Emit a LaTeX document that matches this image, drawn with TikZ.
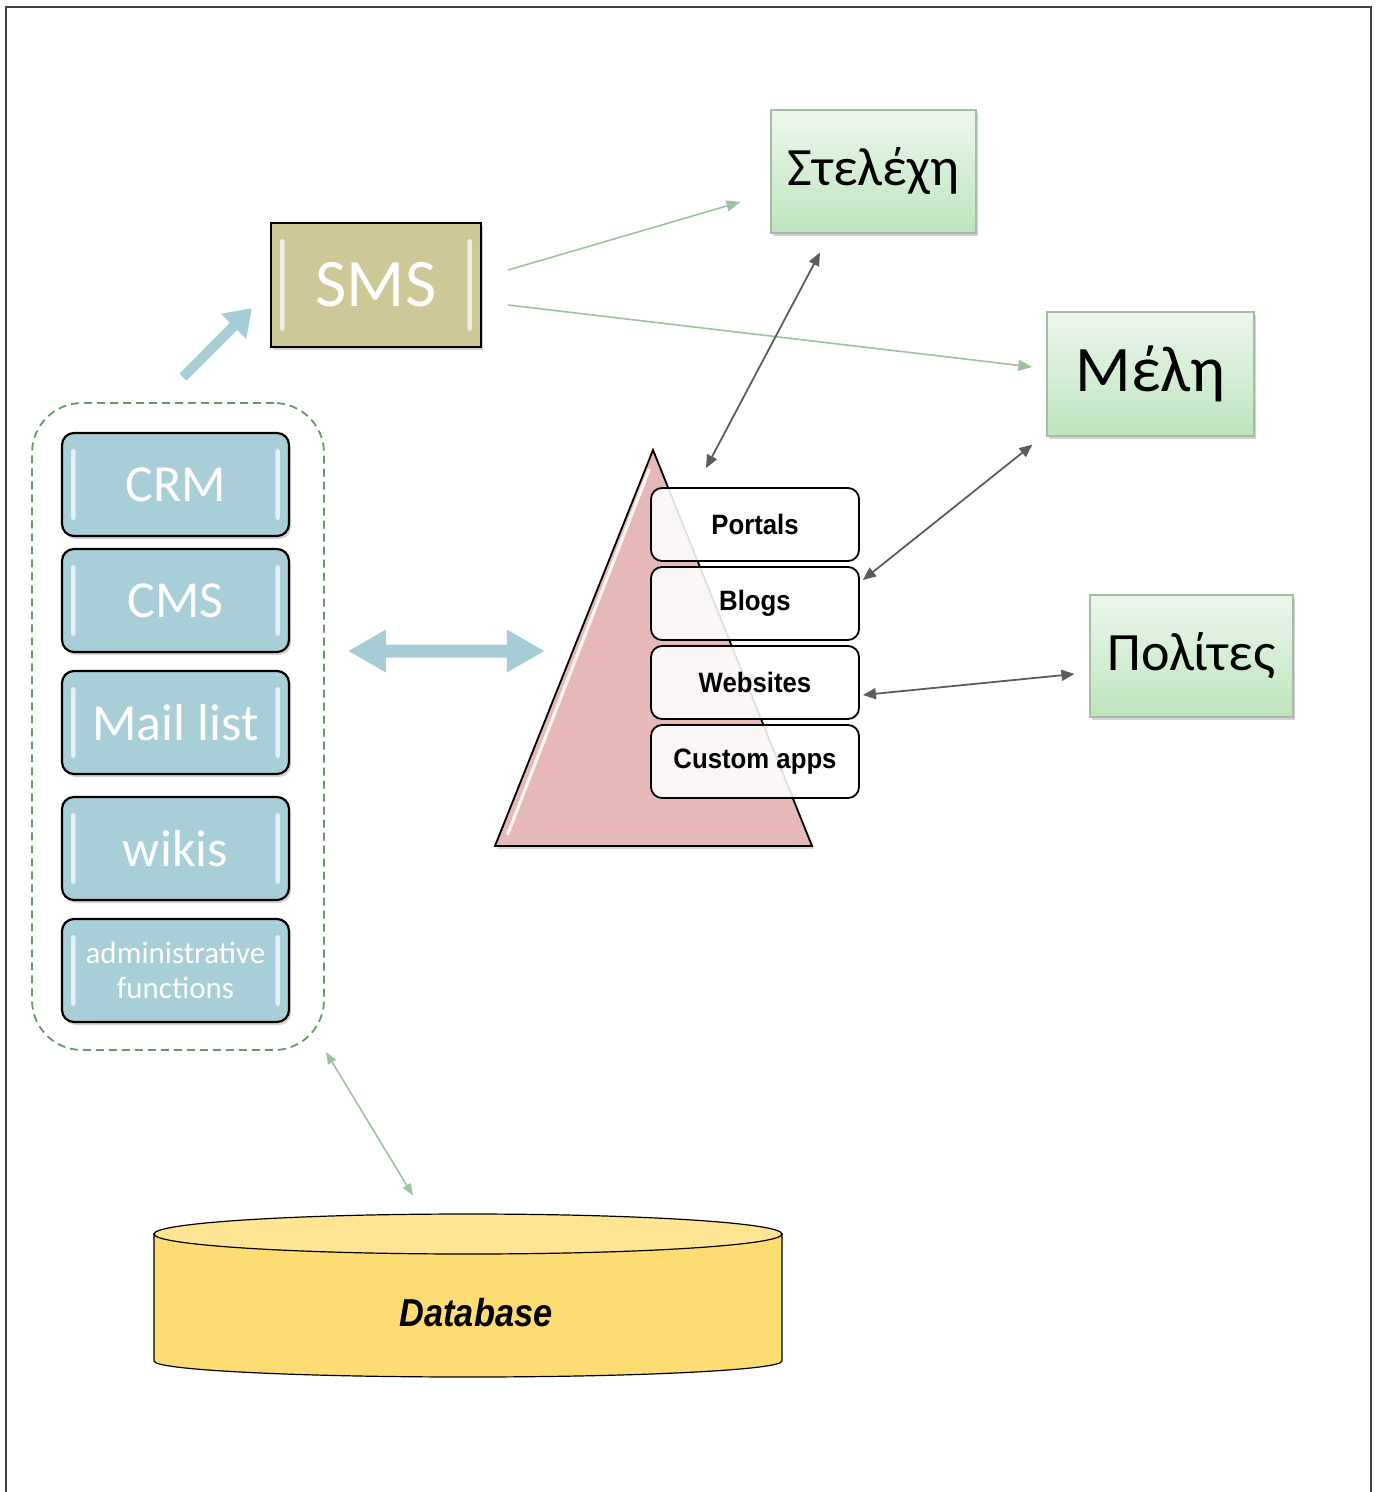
\documentclass[tikz,border=0pt]{standalone}
\usepackage{fontspec}
\setmainfont{Carlito}
\newfontfamily\appfont[FakeStretch=0.92]{Liberation Sans}
\newfontfamily\dbfont[FakeStretch=0.88]{Liberation Sans}
\usetikzlibrary{arrows.meta,shadows,calc}

\definecolor{boxblue}{RGB}{168,206,215}
\definecolor{arrowblue}{RGB}{166,205,214}
\definecolor{smstan}{RGB}{206,199,152}
\definecolor{greentop}{RGB}{236,247,236}
\definecolor{greenbot}{RGB}{190,228,190}
\definecolor{greenline}{RGB}{158,194,158}
\definecolor{dashgreen}{RGB}{104,152,104}
\definecolor{pyrpink}{RGB}{230,184,184}
\definecolor{dbbody}{RGB}{253,220,116}
\definecolor{dbtop}{RGB}{254,229,148}
\definecolor{darkarrow}{RGB}{92,92,92}

\tikzset{
  glossy/.style={
    path picture={
      \fill[white,opacity=.7,rounded corners=1.2pt]
        ([xshift=4.5pt,yshift=-8pt]path picture bounding box.north west)
        rectangle ([xshift=6.8pt,yshift=8pt]path picture bounding box.south west);
      \fill[white,opacity=.7,rounded corners=1.2pt]
        ([xshift=-4.5pt,yshift=-8pt]path picture bounding box.north east)
        rectangle ([xshift=-6.8pt,yshift=8pt]path picture bounding box.south east);
    }},
  toolbox/.style={draw=black, line width=1.1pt, fill=boxblue, rounded corners=6pt,
    minimum width=113.5pt, minimum height=51.5pt, text=white, glossy,
    align=center, inner sep=0pt,
    drop shadow={shadow xshift=1pt, shadow yshift=-1.5pt, opacity=.35}},
  smsbox/.style={draw=black, line width=1.1pt, fill=smstan,
    minimum width=105pt, minimum height=62pt, text=white, glossy,
    font=\fontsize{34}{38}\selectfont,
    drop shadow={shadow xshift=1pt, shadow yshift=-1.5pt, opacity=.35}},
  groupbox/.style={draw=greenbot!60!gray, line width=0.6pt,
    top color=greentop, bottom color=greenbot,
    drop shadow={shadow xshift=1pt, shadow yshift=-1.5pt, opacity=.35}},
  appbox/.style={draw=black, line width=0.9pt, fill=white, fill opacity=.88,
    text opacity=1, rounded corners=5.5pt,
    minimum width=104pt, minimum height=36.5pt,
    font=\appfont\bfseries\fontsize{14}{16}\selectfont},
  greenarrow/.style={draw=greenline, line width=0.8pt,
    -{Triangle[length=7pt,width=5.5pt]}},
  greendouble/.style={draw=greenline, line width=0.8pt,
    {Triangle[length=6pt,width=4.5pt]}-{Triangle[length=6pt,width=4.5pt]}},
  graydouble/.style={draw=darkarrow, line width=0.9pt,
    {Triangle[length=6.5pt,width=5.5pt]}-{Triangle[length=6.5pt,width=5.5pt]}},
  fatarrow/.style={draw=arrowblue, line width=5pt,
    -{Triangle[length=13pt,width=17pt]}},
  fatdouble/.style={draw=arrowblue, line width=6.5pt,
    {Triangle[length=19pt,width=20pt]}-{Triangle[length=19pt,width=20pt]}}
}

\begin{document}
\begin{tikzpicture}[x=0.5pt,y=-0.5pt]
  \useasboundingbox (0,0) rectangle (1381,1492);

  % page frame
  \draw[line width=0.8pt, black!75] (6,1492) -- (6,7) -- (1371,7) -- (1371,1492);

  % dashed group of internal tools
  \node[draw=dashgreen, dashed, dash pattern=on 4pt off 2.5pt, line width=0.9pt,
        rounded corners=25pt, minimum width=146pt, minimum height=323.5pt]
        (grp) at (178,726.5) {};

  \node[toolbox, font=\fontsize{26}{30}\selectfont] (crm)   at (175.5,484.5) {CRM};
  \node[toolbox, font=\fontsize{26}{30}\selectfont] (cms)   at (175.5,600.5) {CMS};
  \node[toolbox, font=\fontsize{26}{30}\selectfont] (mail)  at (175.5,722.5) {Mail list};
  \node[toolbox, font=\fontsize{26}{30}\selectfont] (wikis) at (175.5,848.5) {wikis};
  \node[toolbox, font=\fontsize{15.5}{17.5}\selectfont] (admin) at (175.5,970.5) {administrative\\functions};

  % SMS gateway
  \node[smsbox] (sms) at (376,285) {SMS};

  % audience groups
  \node[groupbox, minimum width=102.5pt, minimum height=61.5pt,
        font=\fontsize{27}{31}\selectfont] (ste) at (873.5,171.5) {Στελέχη};
  \node[groupbox, minimum width=103.5pt, minimum height=62pt,
        font=\fontsize{32.5}{36}\selectfont] (mel) at (1150.5,374) {Μέλη};
  \node[groupbox, minimum width=101.5pt, minimum height=61pt,
        font=\fontsize{27}{31}\selectfont] (pol) at (1191.5,656) {Πολίτες};

  % pyramid of web front-ends
  \coordinate (apex) at (653,450);
  \coordinate (tl) at (495,846);
  \coordinate (tr) at (812,846);
  \filldraw[fill=pyrpink, draw=black, line width=0.9pt,
            drop shadow={shadow xshift=1pt, shadow yshift=-1.5pt, opacity=.3}]
    (apex) -- (tr) -- (tl) -- cycle;
  \draw[white, opacity=.85, line width=1.6pt, line cap=round]
    ($(apex)!0.05!(tl)+(4,0)$) -- ($(apex)!0.97!(tl)+(8,0)$);
  \coordinate (pyrleft) at ($(apex)!0.5076!(tl)$);

  \node[appbox] (portals)  at (755,524.5) {Portals};
  \node[appbox] (blogs)    at (755,603.5) {Blogs};
  \node[appbox] (websites) at (755,682.5) {Websites};
  \node[appbox] (custom)   at (755,761.5) {Custom apps};

  % database cylinder
  \node[minimum width=314pt, minimum height=81.5pt, inner sep=0pt] (db) at (468,1295.5) {};
  \filldraw[fill=dbbody, draw=black, line width=0.6pt]
    (154,1234) -- (154,1361) arc[start angle=180, end angle=360, x radius=157pt, y radius=8pt]
    -- (782,1234) -- cycle;
  \filldraw[fill=dbtop, draw=black, line width=0.6pt]
    (468,1234) ellipse [x radius=157pt, y radius=10pt];
  \node[font=\dbfont\bfseries\itshape\fontsize{19.5}{22}\selectfont] (dblabel)
    at (476,1313) {Database};

  % connectors
  \draw[fatarrow] ([xshift=2.5pt,yshift=12.5pt]grp.north)
               -- ([xshift=-9pt,yshift=20pt]sms.south west);
  \draw[fatdouble] ([xshift=11.5pt,yshift=37.75pt]grp.east)
                -- ([xshift=-14pt]pyrleft);

  \draw[greenarrow] ([xshift=13pt,yshift=7.5pt]sms.east)
                 -- ([xshift=-15pt,yshift=-15.25pt]ste.west);
  \draw[greenarrow] ([xshift=13pt,yshift=-10pt]sms.east)
                 -- ([xshift=-7pt,yshift=3.5pt]mel.west);

  \draw[graydouble] ([xshift=-26.75pt,yshift=-9.5pt]ste.south)
                 -- ([xshift=-24.5pt,yshift=9.5pt]portals.north);
  \draw[graydouble] ([xshift=-7pt,yshift=-4pt]mel.south west)
                 -- ([xshift=1.5pt,yshift=11.75pt]blogs.east);
  \draw[graydouble] ([xshift=1.5pt,yshift=-6.25pt]websites.east)
                 -- ([xshift=-7.5pt,yshift=-9pt]pol.west);

  \draw[greendouble] ([xshift=0.5pt,yshift=-0.5pt]grp.south east)
                  -- ([xshift=-27.5pt,yshift=9pt]db.north);
\end{tikzpicture}
\end{document}
